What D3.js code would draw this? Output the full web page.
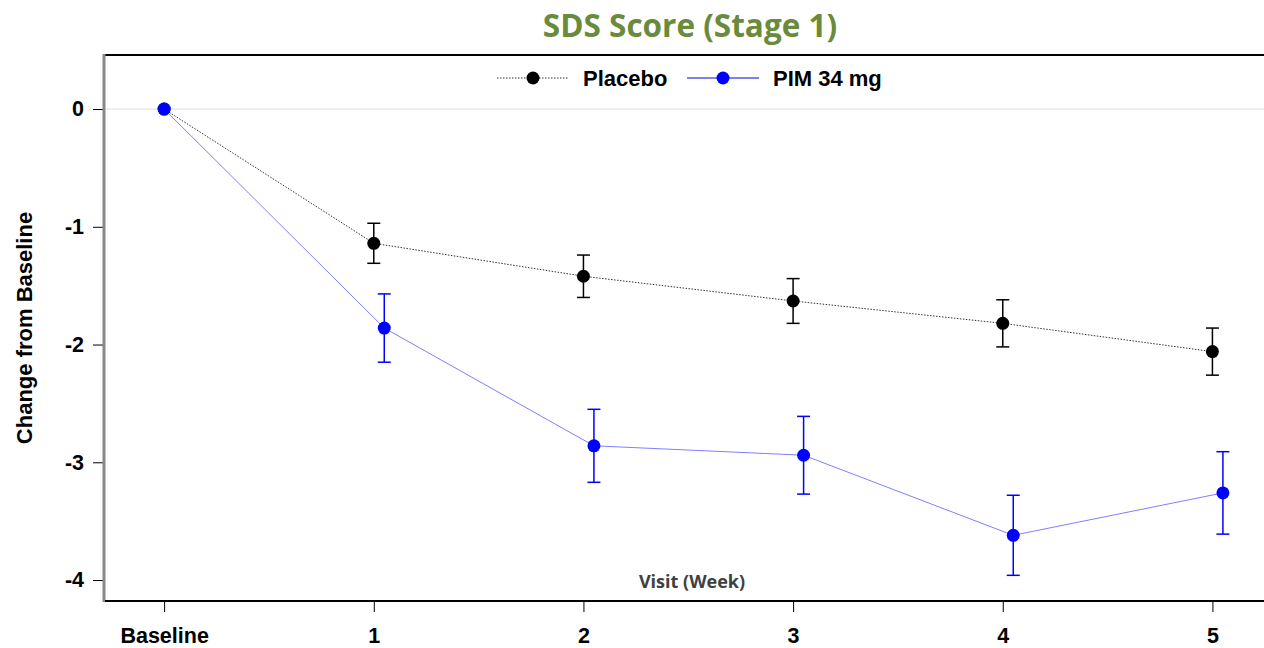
<!DOCTYPE html>
<html lang="en">
<head>
    <meta charset="UTF-8">
    <title>SDS Score (Stage 1)</title>
    <script src="https://d3js.org/d3.v7.min.js"></script>
    <style>
        body { margin: 0; background: #fff; font-family: "Liberation Sans", Arial, sans-serif; }
        .tick text { font-family: "Liberation Sans", Arial, sans-serif; font-weight: bold; font-size: 21.5px; fill: #000; }
    </style>
</head>
<body>
<div id="chart"></div>
<script>
// visits (0 = Baseline)
var visits = [0, 1, 2, 3, 4, 5];
var visitLabels = ["Baseline", "1", "2", "3", "4", "5"];
var yTicks = [0, -1, -2, -3, -4];

var placeboMean = [0, -1.14, -1.42, -1.63, -1.82, -2.06];
var placeboErr  = [0, 0.17, 0.18, 0.19, 0.20, 0.20];
var pimMean     = [0, -1.86, -2.86, -2.94, -3.62, -3.26];
var pimErr      = [0, 0.29, 0.31, 0.33, 0.34, 0.35];

var width = 1264, height = 648;
var margin = { top: 55, right: 0, bottom: 47, left: 105 };

var svg = d3.select("#chart").append("svg")
    .attr("width", width)
    .attr("height", height);

var x = d3.scaleLinear()
    .domain([-0.282, 5.246])
    .range([margin.left, width - margin.right]);

var y = d3.scaleLinear()
    .domain([-4.178, 0.459])
    .range([height - margin.bottom, margin.top]);

// title
svg.append("text")
    .attr("x", 690)
    .attr("y", 37)
    .attr("text-anchor", "middle")
    .style("font-family", "'Open Sans', sans-serif")
    .style("font-weight", "bold")
    .style("font-size", "31.5px")
    .style("fill", "#6a8a3c")
    .text("SDS Score (Stage 1)");

// zero reference line
svg.append("line")
    .attr("x1", margin.left).attr("x2", width)
    .attr("y1", y(0)).attr("y2", y(0))
    .attr("stroke", "#dddddd")
    .attr("stroke-width", 1);

// top frame line
svg.append("line")
    .attr("x1", margin.left).attr("x2", width)
    .attr("y1", margin.top).attr("y2", margin.top)
    .attr("stroke", "#000").attr("stroke-width", 2);

// axes
var yAxis = svg.append("g")
    .attr("transform", "translate(" + margin.left + ",0)")
    .call(d3.axisLeft(y).tickValues(yTicks).tickSize(12).tickPadding(9)
        .tickFormat(function(d) { return String(d); }));
yAxis.select(".domain").remove();
yAxis.selectAll(".tick line").attr("stroke", "#000");
svg.append("line")
    .attr("x1", margin.left - 1).attr("x2", margin.left - 1)
    .attr("y1", margin.top - 1).attr("y2", height - margin.bottom + 1)
    .attr("stroke", "#888").attr("stroke-width", 3);

var xAxis = svg.append("g")
    .attr("transform", "translate(0," + (height - margin.bottom) + ")")
    .call(d3.axisBottom(x).tickValues(visits).tickSize(11).tickPadding(16)
        .tickFormat(function(d, i) { return visitLabels[i]; }));
xAxis.select(".domain").attr("stroke", "#000").attr("stroke-width", 2)
    .attr("d", "M" + margin.left + ",0H" + width);

// axis labels
svg.append("text")
    .attr("transform", "translate(32," + 328 + ") rotate(-90)")
    .attr("text-anchor", "middle")
    .style("font-weight", "bold")
    .style("font-size", "22px")
    .text("Change from Baseline");

svg.append("text")
    .attr("x", 692)
    .attr("y", 588)
    .attr("text-anchor", "middle")
    .style("font-family", "'Open Sans', sans-serif")
    .style("font-weight", "bold")
    .style("font-size", "18px")
    .style("fill", "#404040")
    .text("Visit (Week)");

// series
var series = [
    { name: "Placebo", mean: placeboMean, err: placeboErr, dodge: 0, dot: "#000", line: "#333", dash: "1.5,1.5", bar: "#000" },
    { name: "PIM 34 mg", mean: pimMean, err: pimErr, dodge: 0.05, dot: "#0000ff", line: "#7f7fff", dash: null, bar: "#0000ff" }
];

series.forEach(function(s) {
    var pts = visits.map(function(v, i) {
        return { x: v === 0 ? 0 : v + s.dodge, m: s.mean[i], e: s.err[i] };
    });
    var line = d3.line().x(function(d) { return x(d.x); }).y(function(d) { return y(d.m); });
    svg.append("path")
        .datum(pts)
        .attr("d", line)
        .attr("fill", "none")
        .attr("stroke", s.line)
        .attr("stroke-width", 1)
        .attr("stroke-dasharray", s.dash);

    var g = svg.append("g");
    var bars = g.selectAll(".err").data(pts.filter(function(d) { return d.e > 0; })).enter().append("g");
    bars.append("line")
        .attr("x1", function(d) { return x(d.x); }).attr("x2", function(d) { return x(d.x); })
        .attr("y1", function(d) { return y(d.m + d.e); }).attr("y2", function(d) { return y(d.m - d.e); })
        .attr("stroke", s.bar).attr("stroke-width", 1.5);
    [1, -1].forEach(function(sign) {
        bars.append("line")
            .attr("x1", function(d) { return x(d.x) - 6.5; }).attr("x2", function(d) { return x(d.x) + 6.5; })
            .attr("y1", function(d) { return y(d.m + sign * d.e); }).attr("y2", function(d) { return y(d.m + sign * d.e); })
            .attr("stroke", s.bar).attr("stroke-width", 1.5);
    });
    g.selectAll("circle").data(pts).enter().append("circle")
        .attr("cx", function(d) { return x(d.x); })
        .attr("cy", function(d) { return y(d.m); })
        .attr("r", 6.5)
        .attr("fill", s.dot);
});

// legend
var legend = [
    { label: "Placebo", x0: 497, dot: "#000", line: "#333", dash: "1.5,1.5" },
    { label: "PIM 34 mg", x0: 687, dot: "#0000ff", line: "#0000cc", dash: null }
];
var lg = svg.selectAll(".legend").data(legend).enter().append("g")
    .attr("transform", function(d) { return "translate(" + d.x0 + ",78)"; });
lg.append("line")
    .attr("x1", 0).attr("x2", 72)
    .attr("stroke", function(d) { return d.line; })
    .attr("stroke-width", 1)
    .attr("stroke-dasharray", function(d) { return d.dash; });
lg.append("circle").attr("cx", 36).attr("r", 6.5).attr("fill", function(d) { return d.dot; });
lg.append("text")
    .attr("x", 86)
    .attr("dy", "0.35em")
    .style("font-weight", "bold")
    .style("font-size", "22px")
    .text(function(d) { return d.label; });
</script>
</body>
</html>
